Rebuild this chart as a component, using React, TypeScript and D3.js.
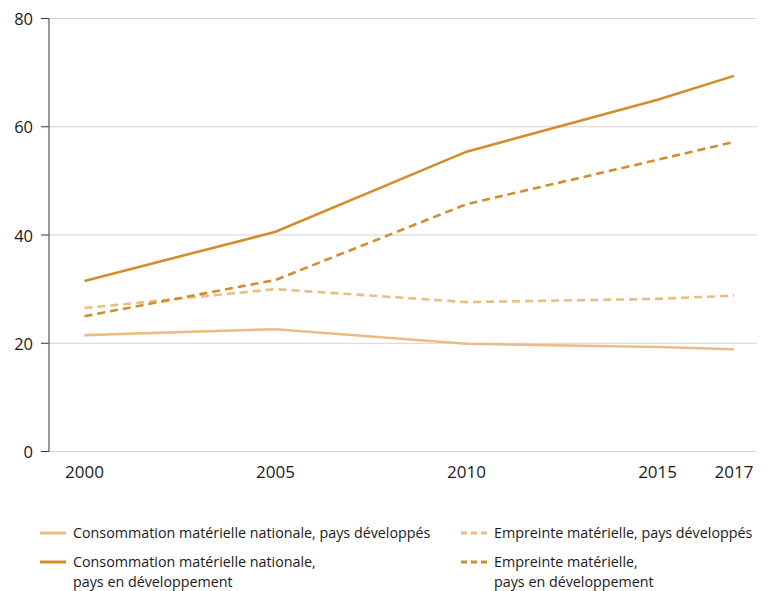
import React from "react";
import * as d3 from "d3";

const years = [2000, 2005, 2010, 2015, 2017];
const dmcDeveloped = [21.5, 22.6, 19.9, 19.3, 18.9];
const dmcDeveloping = [31.5, 40.6, 55.4, 65.0, 69.4];
const footprintDeveloped = [26.5, 30.0, 27.6, 28.2, 28.8];
const footprintDeveloping = [25.0, 31.7, 45.7, 53.9, 57.2];
const yTicks = [0, 20, 40, 60, 80];
const xTickLabels = ["2000", "2005", "2010", "2015", "2017"];

const LIGHT = "#E8BE85";
const DARK = "#D28E2E";

const series = [
  { name: "dmcDev", values: dmcDeveloped, color: LIGHT, dash: null },
  { name: "fpDev", values: footprintDeveloped, color: LIGHT, dash: "8,5" },
  { name: "fpDeving", values: footprintDeveloping, color: DARK, dash: "8,5" },
  { name: "dmcDeving", values: dmcDeveloping, color: DARK, dash: null },
];

const legendItems = [
  { lines: ["Consommation matérielle nationale, pays développés"], color: LIGHT, dash: null, col: 0, row: 0 },
  { lines: ["Empreinte matérielle, pays développés"], color: LIGHT, dash: "6,4", col: 1, row: 0 },
  { lines: ["Consommation matérielle nationale,", "pays en développement"], color: DARK, dash: null, col: 0, row: 1 },
  { lines: ["Empreinte matérielle,", "pays en développement"], color: DARK, dash: "6,4", col: 1, row: 1 },
];

export default function App() {
  const W = 770;
  const H = 591;
  const x = d3.scaleLinear().domain([2000, 2017]).range([84.5, 734]);
  const y = d3.scaleLinear().domain([0, 80]).range([451.5, 18.5]);
  const axisX = 49;
  const gridEnd = 757;
  const font = "'Open Sans', Lato, sans-serif";

  const line = d3
    .line<number>()
    .x((_, i) => x(years[i]))
    .y((d) => y(d));

  const colX = [40, 461];
  const rowY = [533, 562];

  return (
    <svg
      width={W}
      height={H}
      style={{ position: "absolute", left: 0, top: 0, background: "#fff" }}
      fontFamily={font}
    >
      {yTicks.map((t) => (
        <g key={t}>
          <line x1={axisX} x2={gridEnd} y1={y(t)} y2={y(t)} stroke="#d4d4d4" strokeWidth={1} />
          <line x1={41} x2={axisX} y1={y(t)} y2={y(t)} stroke="#333" strokeWidth={1} />
          <text x={33} y={y(t)} textAnchor="end" dominantBaseline="central" fontSize={16.5} fill="#1a1a1a">
            {t}
          </text>
        </g>
      ))}
      <line x1={axisX} x2={axisX} y1={y(80)} y2={y(0)} stroke="#555" strokeWidth={1.2} />
      {years.map((yr, i) => (
        <text key={yr} x={x(yr)} y={477.5} textAnchor="middle" fontSize={17} fill="#1a1a1a">
          {xTickLabels[i]}
        </text>
      ))}
      {series.map((s) => (
        <path
          key={s.name}
          d={line(s.values) || ""}
          fill="none"
          stroke={s.color}
          strokeWidth={2.6}
          strokeDasharray={s.dash || undefined}
        />
      ))}
      {legendItems.map((it, i) => {
        const lx = colX[it.col];
        const ly = rowY[it.row];
        return (
          <g key={i}>
            <line
              x1={lx}
              x2={lx + 26}
              y1={ly}
              y2={ly}
              stroke={it.color}
              strokeWidth={3}
              strokeDasharray={it.dash || undefined}
            />
            {it.lines.map((ln, j) => (
              <text key={j} x={lx + 33} y={ly + 5 + j * 20} fontSize={14.3} fill="#1a1a1a">
                {ln}
              </text>
            ))}
          </g>
        );
      })}
    </svg>
  );
}
